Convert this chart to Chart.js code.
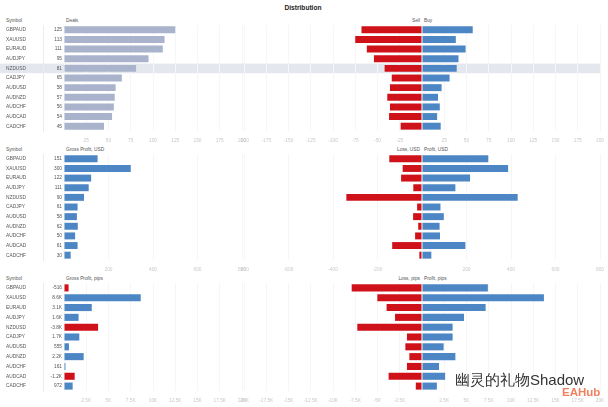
<!DOCTYPE html>
<html>
<head>
<meta charset="utf-8">
<script src="https://cdn.jsdelivr.net/npm/chart.js@4.4.1/dist/chart.umd.min.js"></script>
<style>
  body { margin: 0; background: #fff; }
  #wrap { position: relative; width: 608px; height: 407px; overflow: hidden; font-family: "Liberation Sans", Arial, sans-serif; }
  .box { position: absolute; }
  .t { position: absolute; font-size: 4.8px; line-height: 5px; color: #555; white-space: nowrap; }
  .r { text-align: right; }
</style>
</head>
<body>
<div id="wrap">
  <div class="t" style="left:0;width:606px;top:4px;font-size:6.6px;line-height:8px;font-weight:bold;color:#222;text-align:center">Distribution</div>

  <div class="t" style="left:6px;top:17.5px">Symbol</div>
  <div class="t" style="left:66px;top:17.5px">Deals</div>
  <div class="t r" style="left:380px;width:40px;top:17.5px">Sell</div>
  <div class="t" style="left:424px;top:17.5px">Buy</div>

  <div class="t" style="left:6px;top:147px">Symbol</div>
  <div class="t" style="left:66px;top:147px">Gross Profit, USD</div>
  <div class="t r" style="left:360px;width:60px;top:147px">Loss, USD</div>
  <div class="t" style="left:424px;top:147px">Profit, USD</div>

  <div class="t" style="left:6px;top:276px">Symbol</div>
  <div class="t" style="left:66px;top:276px">Gross Profit, pips</div>
  <div class="t r" style="left:360px;width:60px;top:276px">Loss, pips</div>
  <div class="t" style="left:424px;top:276px">Profit, pips</div>

  <div class="box" style="left:0;top:25px;width:246px;height:122px"><canvas id="l1"></canvas></div>
  <div class="box" style="left:240px;top:25px;width:366px;height:122px"><canvas id="r1"></canvas></div>
  <div class="box" style="left:0;top:154px;width:246px;height:122px"><canvas id="l2"></canvas></div>
  <div class="box" style="left:240px;top:154px;width:366px;height:122px"><canvas id="r2"></canvas></div>
  <div class="box" style="left:0;top:283px;width:246px;height:124px"><canvas id="l3"></canvas></div>
  <div class="box" style="left:240px;top:283px;width:366px;height:124px"><canvas id="r3"></canvas></div>

  <div class="t" style="left:455px;top:371px;font-size:15px;line-height:17px;color:#333;text-shadow:0 0 2px #fff,0 0 2px #fff">幽灵的礼物Shadow</div>
  <div class="t" style="left:562px;top:386px;font-size:11.5px;line-height:13px;font-weight:bold;color:#f08060">EAHub</div>
</div>

<script>
// Daten
const symbols = ['GBPAUD', 'XAUUSD', 'EURAUD', 'AUDJPY', 'NZDUSD', 'CADJPY', 'AUDUSD', 'AUDNZD', 'AUDCHF', 'AUDCAD', 'CADCHF'];

const deals = [125, 113, 111, 95, 81, 65, 58, 57, 56, 54, 45];
const sellDeals = [-68, -75, -62, -54, -42, -34, -36, -39, -36, -37, -24];
const buyDeals = [57, 38, 49, 41, 39, 31, 22, 18, 20, 17, 21];

const grossUsd = [151, 300, 122, 111, 90, 61, 58, 62, 50, 61, 30];
const lossUsd = [-147, -87, -94, -39, -340, -22, -40, -17, -31, -134, -12];
const profitUsd = [298, 387, 216, 150, 430, 83, 98, 79, 81, 195, 42];

const grossPips = [-516, 8620, 3120, 1640, -3830, 1720, 555, 2210, 161, -1200, 972];
const lossPips = [-7900, -5020, -3980, -3030, -7270, -1690, -1870, -1420, -1690, -3750, -700];
const profitPips = [7400, 13700, 7150, 4720, 3440, 3440, 2430, 3750, 1910, 2600, 1670];

const highlightRow = 4; // NZDUSD

const RED = '#cf1219';
const BLUE = '#4d86c5';
const GREY_BLUE = '#a9b4cc';
const FONT = { family: '"Liberation Sans", Arial, sans-serif', size: 4.8 };

function fmtK(v) {
  if (Math.abs(v) >= 1000) return (v / 1000).toFixed(1).replace('.0', '') + 'K';
  return String(v);
}

// graue Zeile hinter dem markierten Symbol
const rowBand = {
  id: 'rowBand',
  beforeDraw(chart) {
    const s = chart.scales.y;
    const half = (s.getPixelForValue(1) - s.getPixelForValue(0)) / 2;
    const y = s.getPixelForValue(highlightRow);
    const right = chart.canvas.id.startsWith('r') ? chart.chartArea.right : chart.width;
    chart.ctx.save();
    chart.ctx.fillStyle = '#e4e8ee';
    chart.ctx.fillRect(0, y - half, right, half * 2);
    chart.ctx.restore();
  }
};

function xAxis(min, max, step, fmt) {
  return {
    min: min, max: max,
    ticks: {
      stepSize: step, autoSkip: false, maxRotation: 0, padding: 7,
      font: FONT, color: '#c8c8c8',
      callback: v => v === 0 ? '' : fmt(v)
    },
    grid: { color: '#f6f6f6', drawTicks: false },
    border: { display: false },
    afterFit: s => { s.height = 16; s.paddingLeft = 0; s.paddingRight = 0; }
  };
}

function leftChart(id, values, colors, labels, max, step, fmt, withBand) {
  new Chart(document.getElementById(id), {
    type: 'bar',
    data: {
      labels: symbols,
      datasets: [{
        data: values.map(v => Math.abs(v)),
        backgroundColor: colors,
        barPercentage: 1,
        categoryPercentage: 0.72
      }]
    },
    options: {
      indexAxis: 'y',
      responsive: true,
      maintainAspectRatio: false,
      animation: false,
      layout: { padding: { left: 6, right: 4, top: 0, bottom: 0 } },
      plugins: { legend: { display: false }, tooltip: { enabled: false } },
      scales: {
        x: xAxis(0, max, step, fmt),
        y: {
          type: 'category', labels: labels, position: 'left', weight: 1,
          grid: { display: false, drawTicks: false }, border: { display: false },
          ticks: { font: FONT, color: '#555', padding: 2 },
          afterFit: s => { s.width = 21; s.paddingTop = 0; s.paddingBottom = 0; }
        },
        ySym: {
          type: 'category', labels: symbols, position: 'left', weight: 2,
          grid: { display: false, drawTicks: false }, border: { display: true, color: '#ececec' },
          ticks: { font: FONT, color: '#555', crossAlign: 'far' },
          afterFit: s => { s.width = 37; s.paddingTop = 0; s.paddingBottom = 0; }
        }
      }
    },
    plugins: withBand ? [rowBand] : []
  });
}

function rightChart(id, neg, pos, max, step, fmt, withBand) {
  new Chart(document.getElementById(id), {
    type: 'bar',
    data: {
      labels: symbols,
      datasets: [
        { data: neg, backgroundColor: RED, barPercentage: 1, categoryPercentage: 0.72 },
        { data: pos, backgroundColor: BLUE, barPercentage: 1, categoryPercentage: 0.72 }
      ]
    },
    options: {
      indexAxis: 'y',
      responsive: true,
      maintainAspectRatio: false,
      animation: false,
      layout: { padding: { left: 4, right: 6, top: 0, bottom: 0 } },
      plugins: { legend: { display: false }, tooltip: { enabled: false } },
      scales: {
        x: Object.assign(xAxis(-max, max, step, fmt), { stacked: true }),
        y: { display: false, stacked: true }
      }
    },
    plugins: withBand ? [rowBand] : []
  });
}

leftChart('l1', deals, GREY_BLUE, deals.map(String), 200, 25, String, true);
rightChart('r1', sellDeals, buyDeals, 200, 25, String, true);

leftChart('l2', grossUsd, BLUE, grossUsd.map(String), 800, 200, String, false);
rightChart('r2', lossUsd, profitUsd, 800, 200, String, false);

leftChart('l3', grossPips, grossPips.map(v => v < 0 ? RED : BLUE), grossPips.map(fmtK), 20000, 2500, fmtK, false);
rightChart('r3', lossPips, profitPips, 20000, 2500, fmtK, false);
</script>
</body>
</html>
